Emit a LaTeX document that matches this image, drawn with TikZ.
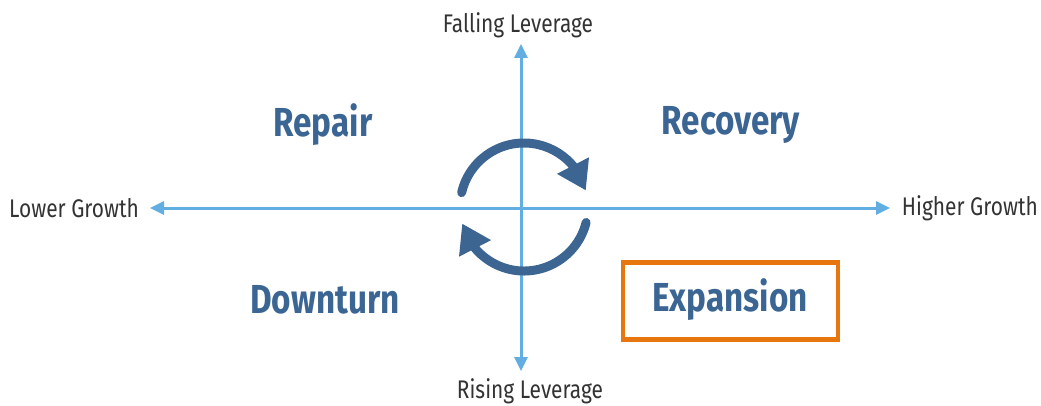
\documentclass[tikz,border=0pt]{standalone}
\usepackage{fontspec}
\setmainfont{Fira Sans}[FakeStretch=0.82]
\usetikzlibrary{arrows.meta,bending}
\definecolor{axisblue}{HTML}{62AEE2}
\definecolor{cycleblue}{HTML}{3D6592}
\definecolor{phaseblue}{HTML}{3B6593}
\definecolor{boxorange}{HTML}{E8760F}
\definecolor{labelgray}{HTML}{333333}
\tikzset{
  axis/.style={draw=axisblue, line width=3pt, -{Triangle[length=14pt,width=13pt]}},
  cycle/.style={draw=cycleblue, line width=9pt, line cap=round,
    -{Triangle[length=28pt,width=34pt,flex]}},
  endlabel/.style={text=labelgray, font=\fontsize{25.5}{30}\selectfont, inner sep=0pt},
  phase/.style={text=phaseblue, font=\fontsize{40.5}{48}\selectfont\bfseries, inner sep=0pt},
}
\begin{document}
\begin{tikzpicture}[x=1pt,y=1pt]
  \useasboundingbox (0,0) rectangle (1041,405);
  % centre of the chart
  \coordinate (o) at (521,197);
  % axis end labels
  \node[endlabel] (fall) at (518,380) {Falling Leverage};
  \node[endlabel] (rise) at (530,14) {Rising Leverage};
  \node[endlabel, anchor=west] (low) at (9,197) {Lower Growth};
  \node[endlabel, anchor=east] (high) at (1038,197) {Higher Growth};
  % axis ends
  \coordinate (ytop) at (521,361);
  \coordinate (ybot) at (521,34);
  \coordinate (xleft) at (150,197);
  \coordinate (xright) at (890,197);
  \draw[axis] (o) -- (ytop);
  \draw[axis] (o) -- (ybot);
  \draw[axis] (o) -- (xleft);
  \draw[axis] (o) -- (xright);
  % the four phases
  \node[phase] (repair) at (323,280) {Repair};
  \node[phase] (recovery) at (731,280) {Recovery};
  \node[phase] (downturn) at (325,105) {Downturn};
  \node[phase] (expansion) at (730,105) {Expansion};
  \node[draw=boxorange, line width=4.5pt, minimum width=215pt, minimum height=77pt]
    (box) at (730.5,104) {};
  % circular arrows around the centre
  \coordinate (c) at (524,198);
  \draw[cycle] ([shift={(167:64)}]c) arc[start angle=167, end angle=15, radius=64];
  \draw[cycle] ([shift={(-14:64)}]c) arc[start angle=-14, end angle=-165, radius=64];
\end{tikzpicture}
\end{document}
